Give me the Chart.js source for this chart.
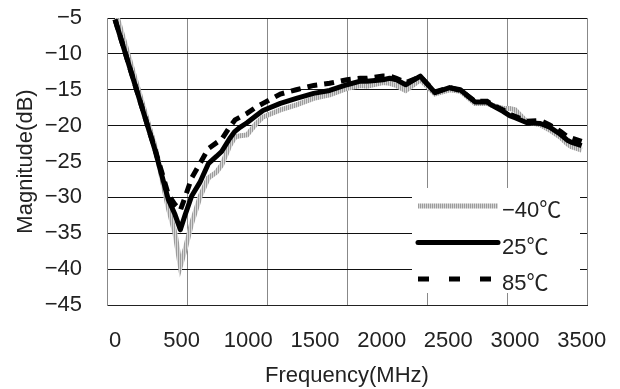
<!DOCTYPE html>
<html>
<head>
<meta charset="utf-8">
<script src="https://cdn.jsdelivr.net/npm/chart.js@4.4.0/dist/chart.umd.min.js"></script>
<style>
html,body{margin:0;padding:0;background:#fff;}
canvas{display:block;}
</style>
</head>
<body>
<canvas id="c" width="620" height="389"></canvas>
<script>
// ---- data ----
const freqMHz = [0, 150, 300, 400, 450, 490, 525, 575, 640, 700, 760, 800, 860, 900, 940, 990, 1060, 1110, 1240, 1360, 1490, 1610, 1740, 1840, 1890, 2010, 2060, 2110, 2180, 2290, 2400, 2510, 2590, 2700, 2790, 2820, 2910, 2960, 3000, 3090, 3190, 3260, 3340, 3390, 3420, 3500];
const seriesM40 = [-3.8, -13.4, -22.9, -31.5, -35.0, -39.6, -37.3, -33.6, -29.8, -27.3, -26.5, -25.5, -22.8, -21.6, -21.4, -21.3, -19.7, -18.8, -17.8, -17.1, -16.2, -15.7, -14.8, -14.4, -14.5, -14.0, -14.1, -14.4, -15.1, -13.6, -15.6, -15.0, -15.2, -16.9, -16.9, -17.1, -17.6, -17.6, -17.8, -19.5, -19.9, -20.6, -21.6, -22.5, -22.9, -23.4];
const series25 = [-5.2, -14.3, -23.4, -30.3, -32.4, -34.5, -32.5, -29.8, -27.8, -25.3, -24.3, -23.6, -21.8, -20.8, -20.2, -19.6, -18.6, -17.9, -16.9, -16.2, -15.5, -15.1, -14.3, -13.8, -13.8, -13.6, -13.4, -13.6, -14.3, -13.1, -15.4, -14.7, -15.0, -16.7, -16.7, -17.1, -18.0, -18.6, -18.9, -19.6, -19.7, -20.2, -21.2, -22.0, -22.3, -22.8];
const series85 = [-5.2, -14.3, -23.3, -29.6, -31.0, -31.8, -30.0, -27.3, -25.2, -23.2, -22.4, -21.9, -20.2, -19.2, -18.8, -18.3, -17.4, -16.9, -15.6, -15.0, -14.4, -14.1, -13.6, -13.4, -13.4, -13.1, -13.1, -13.4, -14.0, -13.2, -15.3, -14.7, -15.1, -16.6, -16.6, -17.0, -17.8, -18.4, -18.7, -19.4, -19.3, -19.9, -20.8, -21.5, -21.7, -22.2];
const seriesLabels = ['\u221240\u2103', '25\u2103', '85\u2103'];
const xTickLabels = [0, 500, 1000, 1500, 2000, 2500, 3000, 3500];
const yTickLabels = [-5, -10, -15, -20, -25, -30, -35, -40, -45];
const xTitle = 'Frequency(MHz)';
const yTitle = 'Magnitude(dB)';

const FONT = '"Liberation Sans", "Noto Sans CJK KR", sans-serif';
const canvas = document.getElementById('c');
const ctx = canvas.getContext('2d');

// striped light-grey pattern for the -40 series
const pc = document.createElement('canvas');
pc.width = 2; pc.height = 1;
const pctx = pc.getContext('2d');
pctx.fillStyle = '#9c9c9c'; pctx.fillRect(0, 0, 1, 1);
pctx.fillStyle = '#d6d6d6'; pctx.fillRect(1, 0, 1, 1);
const grayPattern = ctx.createPattern(pc, 'repeat');

function pts(vals) { return freqMHz.map((f, i) => ({x: f, y: vals[i]})); }
const minus = v => (v < 0 ? '\u2212' + Math.abs(v) : String(v));

const legendPlugin = {
  id: 'insideLegend',
  afterDraw(chart) {
    const a = chart.chartArea;
    const c = chart.ctx;
    const bx = a.right - 175, by = a.top + 170, bw = 168, bh = 105;
    c.save();
    c.fillStyle = '#ffffff';
    c.fillRect(bx, by, bw, bh);
    const specs = [
      {ds: 0, w: 5, dash: [], cap: 'butt'},
      {ds: 1, w: 5, dash: [], cap: 'round'},
      {ds: 2, w: 5, dash: [11, 20], cap: 'butt'}
    ];
    const x0 = bx + 6, x1 = bx + 86;
    specs.forEach((s, i) => {
      const ds = chart.data.datasets[s.ds];
      const y = by + 18 + i * 36.5;
      c.beginPath();
      c.lineWidth = s.w;
      c.lineCap = s.cap;
      c.setLineDash(s.dash);
      c.strokeStyle = ds.borderColor;
      c.moveTo(x0, y); c.lineTo(x1, y);
      c.stroke();
      c.setLineDash([]);
      c.fillStyle = '#222';
      c.font = '22px ' + FONT;
      c.textBaseline = 'alphabetic';
      c.textAlign = 'left';
      c.fillText(ds.label, x1 + 4, y + 11);
    });
    c.restore();
  }
};

new Chart(ctx, {
  type: 'line',
  data: {
    datasets: [
      {label: seriesLabels[0], data: pts(seriesM40), borderColor: grayPattern, borderWidth: 5, pointRadius: 0, tension: 0, order: 2},
      {label: seriesLabels[1], data: pts(series25), borderColor: '#000', borderWidth: 5, pointRadius: 0, tension: 0, order: 1, borderJoinStyle: 'round'},
      {label: seriesLabels[2], data: pts(series85), borderColor: '#000', borderWidth: 5, borderDash: [10, 7], pointRadius: 0, tension: 0, order: 0}
    ]
  },
  options: {
    responsive: false,
    animation: false,
    events: [],
    layout: {padding: {left: 0, top: 18, right: 33, bottom: 0}},
    plugins: {legend: {display: false}, tooltip: {enabled: false}},
    scales: {
      x: {
        type: 'linear', position: 'bottom', min: -60, max: 3540,
        afterBuildTicks: s => { s.ticks = xTickLabels.map(v => ({value: v})); },
        afterFit: s => { s.height = 84; s.paddingLeft = 0; s.paddingRight = 0; },
        ticks: {color: '#222', font: {family: FONT, size: 22}, padding: 23, maxRotation: 0, autoSkip: false, callback: v => String(v)},
        grid: {display: false, drawTicks: false},
        border: {display: true, color: '#222', width: 1},
        title: {display: true, text: xTitle, color: '#222', font: {family: FONT, size: 22}, padding: {top: 0, bottom: 0}}
      },
      xg: {
        type: 'linear', position: 'bottom', min: 0, max: 6,
        ticks: {display: false, stepSize: 1},
        afterFit: s => { s.height = 0; s.paddingLeft = 0; s.paddingRight = 0; },
        grid: {color: '#888', lineWidth: 1, drawTicks: false},
        border: {display: false}
      },
      y: {
        type: 'linear', position: 'left', min: -45, max: -5,
        afterBuildTicks: s => { s.ticks = yTickLabels.map(v => ({value: v})); },
        afterFit: s => { s.width = 107; s.paddingTop = 0; s.paddingBottom = 0; },
        ticks: {color: '#222', font: {family: FONT, size: 22}, padding: 25, callback: minus},
        grid: {color: '#111', lineWidth: 1, drawTicks: false},
        border: {display: true, color: '#888', width: 1},
        title: {display: true, text: yTitle, color: '#222', font: {family: FONT, size: 22}, padding: {top: 13, bottom: 0}}
      }
    }
  },
  plugins: [legendPlugin]
});
</script>
</body>
</html>
